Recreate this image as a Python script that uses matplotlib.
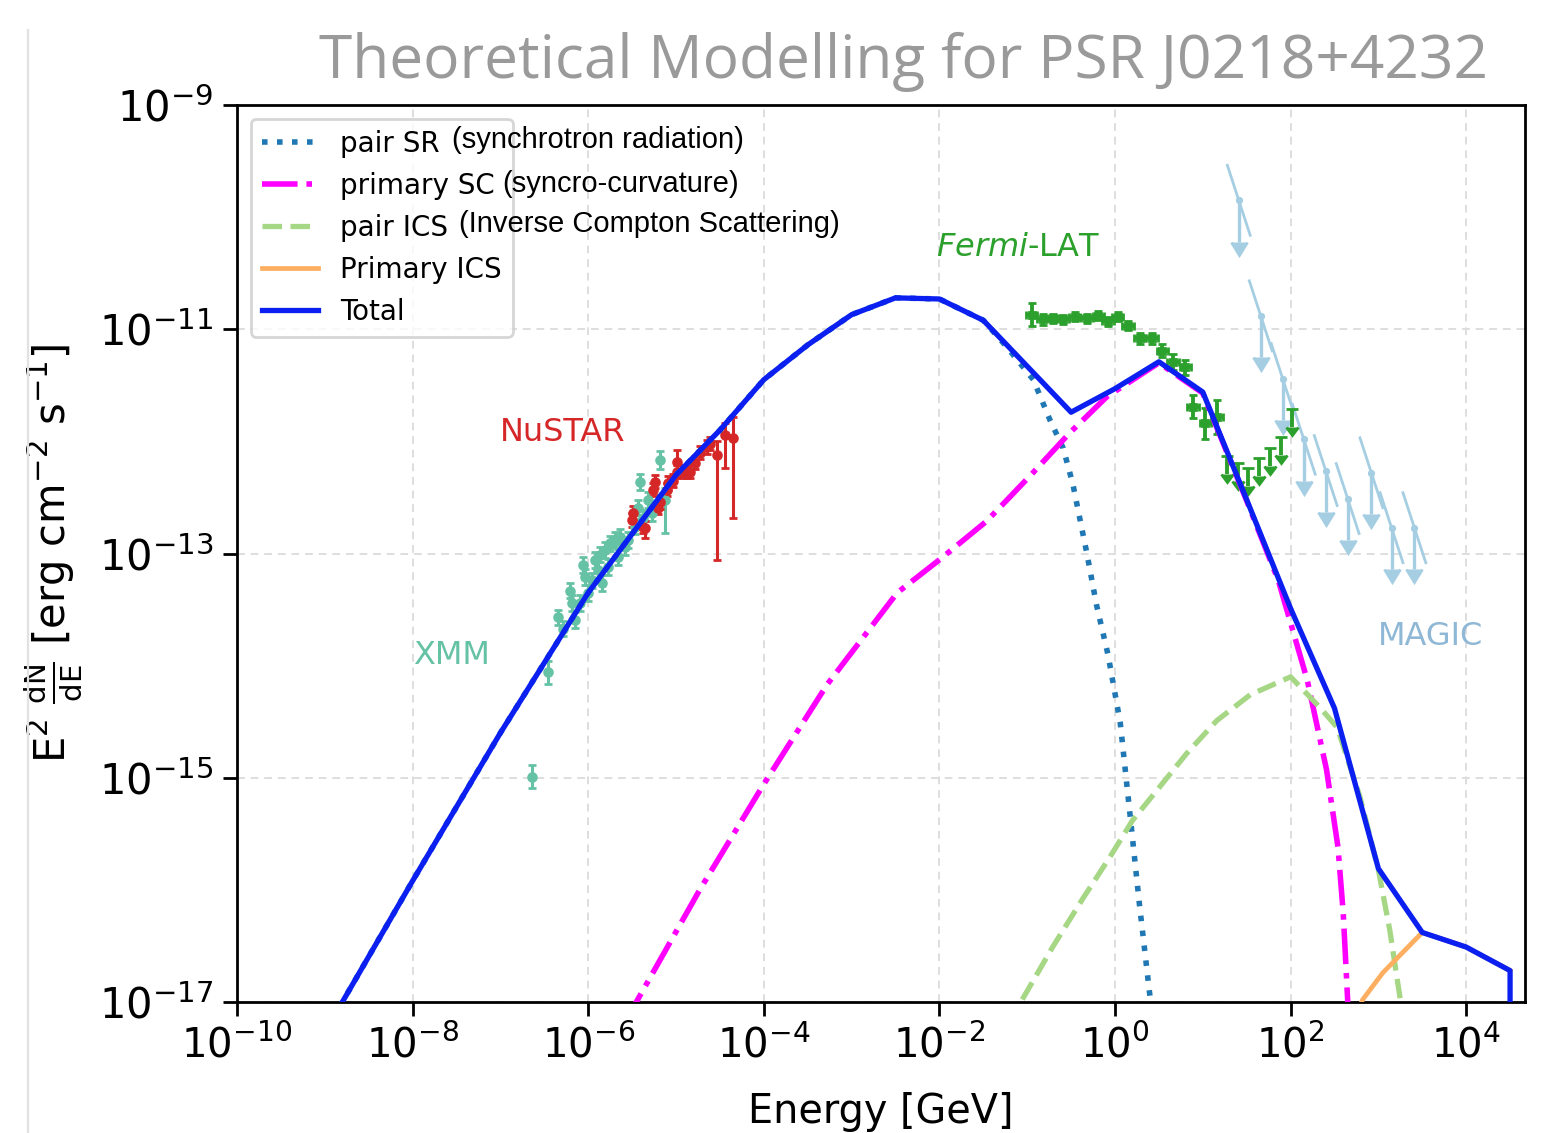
import numpy as np
import matplotlib
matplotlib.use("Agg")
import matplotlib.pyplot as plt
from matplotlib.lines import Line2D
from matplotlib.ticker import FixedLocator, NullLocator

# ---- model curves: log10(E/GeV) and log10(E^2 dN/dE / erg cm-2 s-1) -------
tot_logE = [-9.0, -8.0, -7.0, -6.0, -5.0, -4.5, -4.0, -3.5, -3.0, -2.5, -2.0, -1.5,
            -0.5, 0.0, 0.5, 1.0, 1.5, 2.0, 2.5, 3.0, 3.5, 4.0, 4.5, 4.5]
tot_logF = [-17.27, -15.92, -14.60, -13.35, -12.30, -11.90, -11.45, -11.14, -10.87, -10.72,
            -10.73, -10.92, -11.74, -11.53, -11.29, -11.56, -12.52, -13.49, -14.38, -15.81,
            -16.38, -16.51, -16.72, -18.0]

sr_logE = [-9.0, -8.0, -7.0, -6.0, -5.0, -4.5, -4.0, -3.5, -3.0, -2.5, -2.0, -1.5, -1.23,
           -0.93, -0.74, -0.59, -0.48, -0.32, -0.21, -0.08, 0.06, 0.17, 0.28, 0.40, 0.46]
sr_logF = [-17.27, -15.92, -14.60, -13.35, -12.30, -11.90, -11.45, -11.14, -10.87, -10.72,
           -10.73, -10.92, -11.16, -11.45, -11.81, -12.06, -12.38, -13.00, -13.46, -13.90,
           -14.51, -15.32, -16.14, -16.96, -17.5]

sc_logE = [-5.6, -5.43, -4.73, -4.01, -3.28, -2.48, -1.99, -1.46, -0.97, -0.51, -0.09,
           0.5, 1.0, 1.5, 1.86, 2.19, 2.41, 2.54, 2.60, 2.65, 2.68]
sc_logF = [-17.2, -16.97, -16.00, -15.07, -14.17, -13.35, -13.05, -12.71, -12.31, -11.92,
           -11.60, -11.30, -11.57, -12.53, -13.24, -14.13, -14.93, -15.62, -16.21, -16.98, -17.5]

ics_logE = [-1.2, -1.05, -0.71, -0.36, -0.06, 0.20, 0.48, 0.82, 1.16, 1.54, 2.0, 2.33,
            2.53, 2.79, 3.0, 3.13, 3.25, 3.32]
ics_logF = [-17.2, -16.97, -16.51, -16.07, -15.71, -15.38, -15.11, -14.78, -14.49, -14.26,
            -14.10, -14.37, -14.55, -15.17, -15.82, -16.36, -16.98, -17.5]

pics_logE = [2.7, 2.82, 3.05, 3.5, 4.0, 4.5]
pics_logF = [-17.2, -16.98, -16.74, -16.38, -16.51, -16.72]

# ---- data points -----------------------------------------------------------
xmm_logE = [-6.64, -6.46, -6.34, -6.29, -6.21, -6.18, -6.15, -6.09, -6.06, -6.04,
            -6.00, -5.96, -5.92, -5.89, -5.87, -5.84, -5.81, -5.77, -5.75, -5.69,
            -5.66, -5.64, -5.58, -5.55, -5.47, -5.43, -5.41, -5.38, -5.32, -5.27,
            -5.18, -5.13]
xmm_logF = [-14.99, -14.06, -13.57, -13.67, -13.33, -13.44, -13.59, -13.44, -13.10, -13.21,
            -13.35, -13.24, -13.06, -13.15, -13.01, -13.26, -12.97, -13.12, -12.91, -12.88,
            -13.03, -12.85, -12.94, -12.88, -12.76, -12.59, -12.36, -12.68, -12.52, -12.64,
            -12.17, -12.52]
xmm_lo = [0.10, 0.10, 0.07, 0.07, 0.07, 0.07, 0.07, 0.07, 0.07, 0.07,
          0.07, 0.07, 0.07, 0.07, 0.07, 0.07, 0.07, 0.07, 0.07, 0.07,
          0.07, 0.07, 0.07, 0.07, 0.07, 0.07, 0.07, 0.07, 0.07, 0.07,
          0.08, 0.30]
xmm_hi = [0.10, 0.10, 0.07, 0.07, 0.07, 0.07, 0.07, 0.07, 0.07, 0.07,
          0.07, 0.07, 0.07, 0.07, 0.07, 0.07, 0.07, 0.07, 0.07, 0.07,
          0.07, 0.07, 0.07, 0.07, 0.07, 0.07, 0.07, 0.07, 0.07, 0.07,
          0.08, 0.10]

nu_logE = [-5.50, -5.49, -5.38, -5.35, -5.26, -5.24, -5.21, -5.18, -5.10, -5.09,
           -5.03, -4.99, -4.99, -4.93, -4.87, -4.84, -4.78, -4.73, -4.65, -4.61,
           -4.53, -4.44, -4.35]
nu_logF = [-12.70, -12.64, -12.76, -12.77, -12.43, -12.36, -12.59, -12.54, -12.43, -12.37,
           -12.35, -12.18, -12.27, -12.27, -12.27, -12.27, -12.19, -12.10, -12.05, -12.02,
           -12.12, -11.94, -11.97]
nu_lo = [0.06, 0.06, 0.06, 0.09, 0.06, 0.06, 0.06, 0.06, 0.06, 0.06,
         0.06, 0.10, 0.06, 0.06, 0.06, 0.06, 0.06, 0.06, 0.06, 0.06,
         0.94, 0.30, 0.71]
nu_hi = [0.06, 0.06, 0.06, 0.06, 0.06, 0.06, 0.06, 0.06, 0.06, 0.06,
         0.06, 0.10, 0.06, 0.06, 0.06, 0.06, 0.06, 0.06, 0.06, 0.06,
         0.12, 0.10, 0.19]

fermi_logE = [-0.95, -0.82, -0.71, -0.59, -0.46, -0.32, -0.19, -0.08, 0.03, 0.15,
              0.28, 0.42, 0.54, 0.66, 0.80, 0.89, 1.03, 1.16]
fermi_logF = [-10.87, -10.91, -10.90, -10.91, -10.89, -10.90, -10.88, -10.93, -10.89, -10.97,
              -11.08, -11.08, -11.19, -11.29, -11.34, -11.69, -11.84, -11.78]
fermi_err = [0.10, 0.05, 0.04, 0.04, 0.04, 0.04, 0.04, 0.04, 0.04, 0.04,
             0.05, 0.05, 0.06, 0.07, 0.07, 0.10, 0.14, 0.15]
fermi_ul_logE = [1.28, 1.40, 1.51, 1.64, 1.77, 1.89, 2.02]
fermi_ul_logF = [-12.13, -12.19, -12.24, -12.15, -12.06, -11.96, -11.71]

magic_logE = [1.41, 1.66, 1.91, 2.15, 2.40, 2.65, 2.92, 3.15, 3.41]
magic_logF = [-9.85, -10.88, -11.44, -11.98, -12.26, -12.51, -12.28, -12.77, -12.77]
magic_slope = -2.4   # log-log slope of the spectral segment through each UL


def lin(v):
    return 10.0 ** np.asarray(v, dtype=float)


def dex_err(logf, lo, hi):
    f = lin(logf)
    return f, np.vstack([f - f * 10.0 ** (-np.asarray(lo)), f * 10.0 ** np.asarray(hi) - f])


fig = plt.figure(figsize=(7.8, 5.665), dpi=200)
ax = fig.add_axes([237 / 1560, 131 / 1133, 1288 / 1560, 897 / 1133])
ax.set_xscale("log")
ax.set_yscale("log")

# ---- data ------------------------------------------------------------------
f, yerr = dex_err(xmm_logF, xmm_lo, xmm_hi)
ax.errorbar(lin(xmm_logE), f, yerr=yerr, fmt="o", ms=2.8, color="#66c2a5",
            elinewidth=1.1, capsize=1.3, zorder=3)

f, yerr = dex_err(nu_logF, nu_lo, nu_hi)
ax.errorbar(lin(nu_logE), f, yerr=yerr, fmt="o", ms=2.8, color="#d62728",
            elinewidth=1.1, capsize=1.3, zorder=3)

E = lin(fermi_logE)
f, yerr = dex_err(fermi_logF, fermi_err, fermi_err)
xerr = np.vstack([E - E * 10 ** -0.065, E * 10 ** 0.065 - E])
ax.errorbar(E, f, xerr=xerr, yerr=yerr, fmt="s", ms=2.2, color="#2ca02c",
            elinewidth=1.4, capsize=1.5, zorder=3)

f = lin(fermi_ul_logF)
ax.errorbar(lin(fermi_ul_logE), f, yerr=f - f * 10 ** -0.16, uplims=True, fmt="none",
            color="#2ca02c", elinewidth=1.4, capsize=2.0, zorder=3)

mc = "#a6cee3"
Em = lin(magic_logE)
fm = lin(magic_logF)
ax.vlines(Em, fm * 10 ** -0.37, fm, color=mc, lw=1.2, zorder=2)
ax.plot(Em, fm * 10 ** -0.37, ls="none", marker=11, ms=6, color=mc, zorder=2)
ax.plot(Em, fm, ls="none", marker="o", ms=1.6, color=mc, zorder=2)
for le, lf in zip(magic_logE, magic_logF):
    dx = np.array([-0.13, 0.13])
    ax.plot(10 ** (le + dx), 10 ** (lf + magic_slope * dx), color=mc, lw=1.0, zorder=2)

# ---- model curves ----------------------------------------------------------
ax.plot(lin(sr_logE), lin(sr_logF), color="#1f77b4", lw=2.0, ls=(0, (1, 1.7)),
        label="pair SR", zorder=4)
ax.plot(lin(sc_logE), lin(sc_logF), color="#ff00ff", lw=2.0, ls="-.",
        label="primary SC", zorder=4)
ax.plot(lin(ics_logE), lin(ics_logF), color="#a6d785", lw=1.9, ls="--",
        label="pair ICS", zorder=4)
ax.plot(lin(pics_logE), lin(pics_logF), color="#fdae61", lw=1.7,
        label="Primary ICS", zorder=4)
ax.plot(lin(tot_logE), lin(tot_logF), color="#0a1ff0", lw=1.9,
        label="Total", zorder=5)

# ---- axes ------------------------------------------------------------------
ax.set_xlim(1e-10, 10 ** 4.67)
ax.set_ylim(1e-17, 1e-9)
ax.xaxis.set_major_locator(FixedLocator([10.0 ** k for k in range(-10, 5, 2)]))
ax.yaxis.set_major_locator(FixedLocator([10.0 ** k for k in range(-17, -8, 2)]))
ax.xaxis.set_minor_locator(NullLocator())
ax.yaxis.set_minor_locator(NullLocator())
ax.tick_params(which="major", direction="out", length=5, width=1.0, labelsize=14.5)
ax.tick_params(axis="y", labelsize=15)
ax.grid(True, color="#dedede", ls=(0, (4, 3)), lw=0.7)
for s in ax.spines.values():
    s.set_linewidth(1.0)

ax.set_xlabel("Energy [GeV]", fontsize=14.3, labelpad=9)
ax.set_ylabel(r"E$^2$ $\frac{\mathrm{dN}}{\mathrm{dE}}$ [erg cm$^{-2}$ s$^{-1}$]",
              fontsize=15, labelpad=5)

ax.text(10 ** -6.29, 10 ** -11.92, "NuSTAR", color="#d62728", fontsize=11.5,
        ha="center", va="center")
ax.text(10 ** -7.56, 10 ** -13.91, "XMM", color="#66c2a5", fontsize=11.5,
        ha="center", va="center")
ax.text(10 ** 3.59, 10 ** -13.74, "MAGIC", color="#8fb8d6", fontsize=11.5,
        ha="center", va="center")
ax.text(10 ** -1.10, 10 ** -10.27, r"$\it{Fermi}$-LAT", color="#2ca02c", fontsize=11.5,
        ha="center", va="center")

ax.legend(loc="upper left", fontsize=10, handlelength=2.0, borderaxespad=0.5)

# notes written over the legend
notes = ["(synchrotron radiation)", "(syncro-curvature)", "(Inverse Compton Scattering)"]
note_x = [452, 502, 459]
note_y = [140, 184, 224]
for t, nx, ny in zip(notes, note_x, note_y):
    fig.text(nx / 1560, 1 - ny / 1133, t, fontsize=10.5, family="Liberation Sans",
             ha="left", va="center", color="black")

fig.text(903 / 1560, 1 - 62 / 1133, "Theoretical Modelling for PSR J0218+4232",
         fontsize=21.8, color="#9a9a9a", family="Open Sans", ha="center", va="center")

fig.add_artist(Line2D([28 / 1560, 28 / 1560], [0, 1 - 30 / 1133], color="#e2e2e2", lw=0.8))

fig.savefig("out.png", dpi=200)
